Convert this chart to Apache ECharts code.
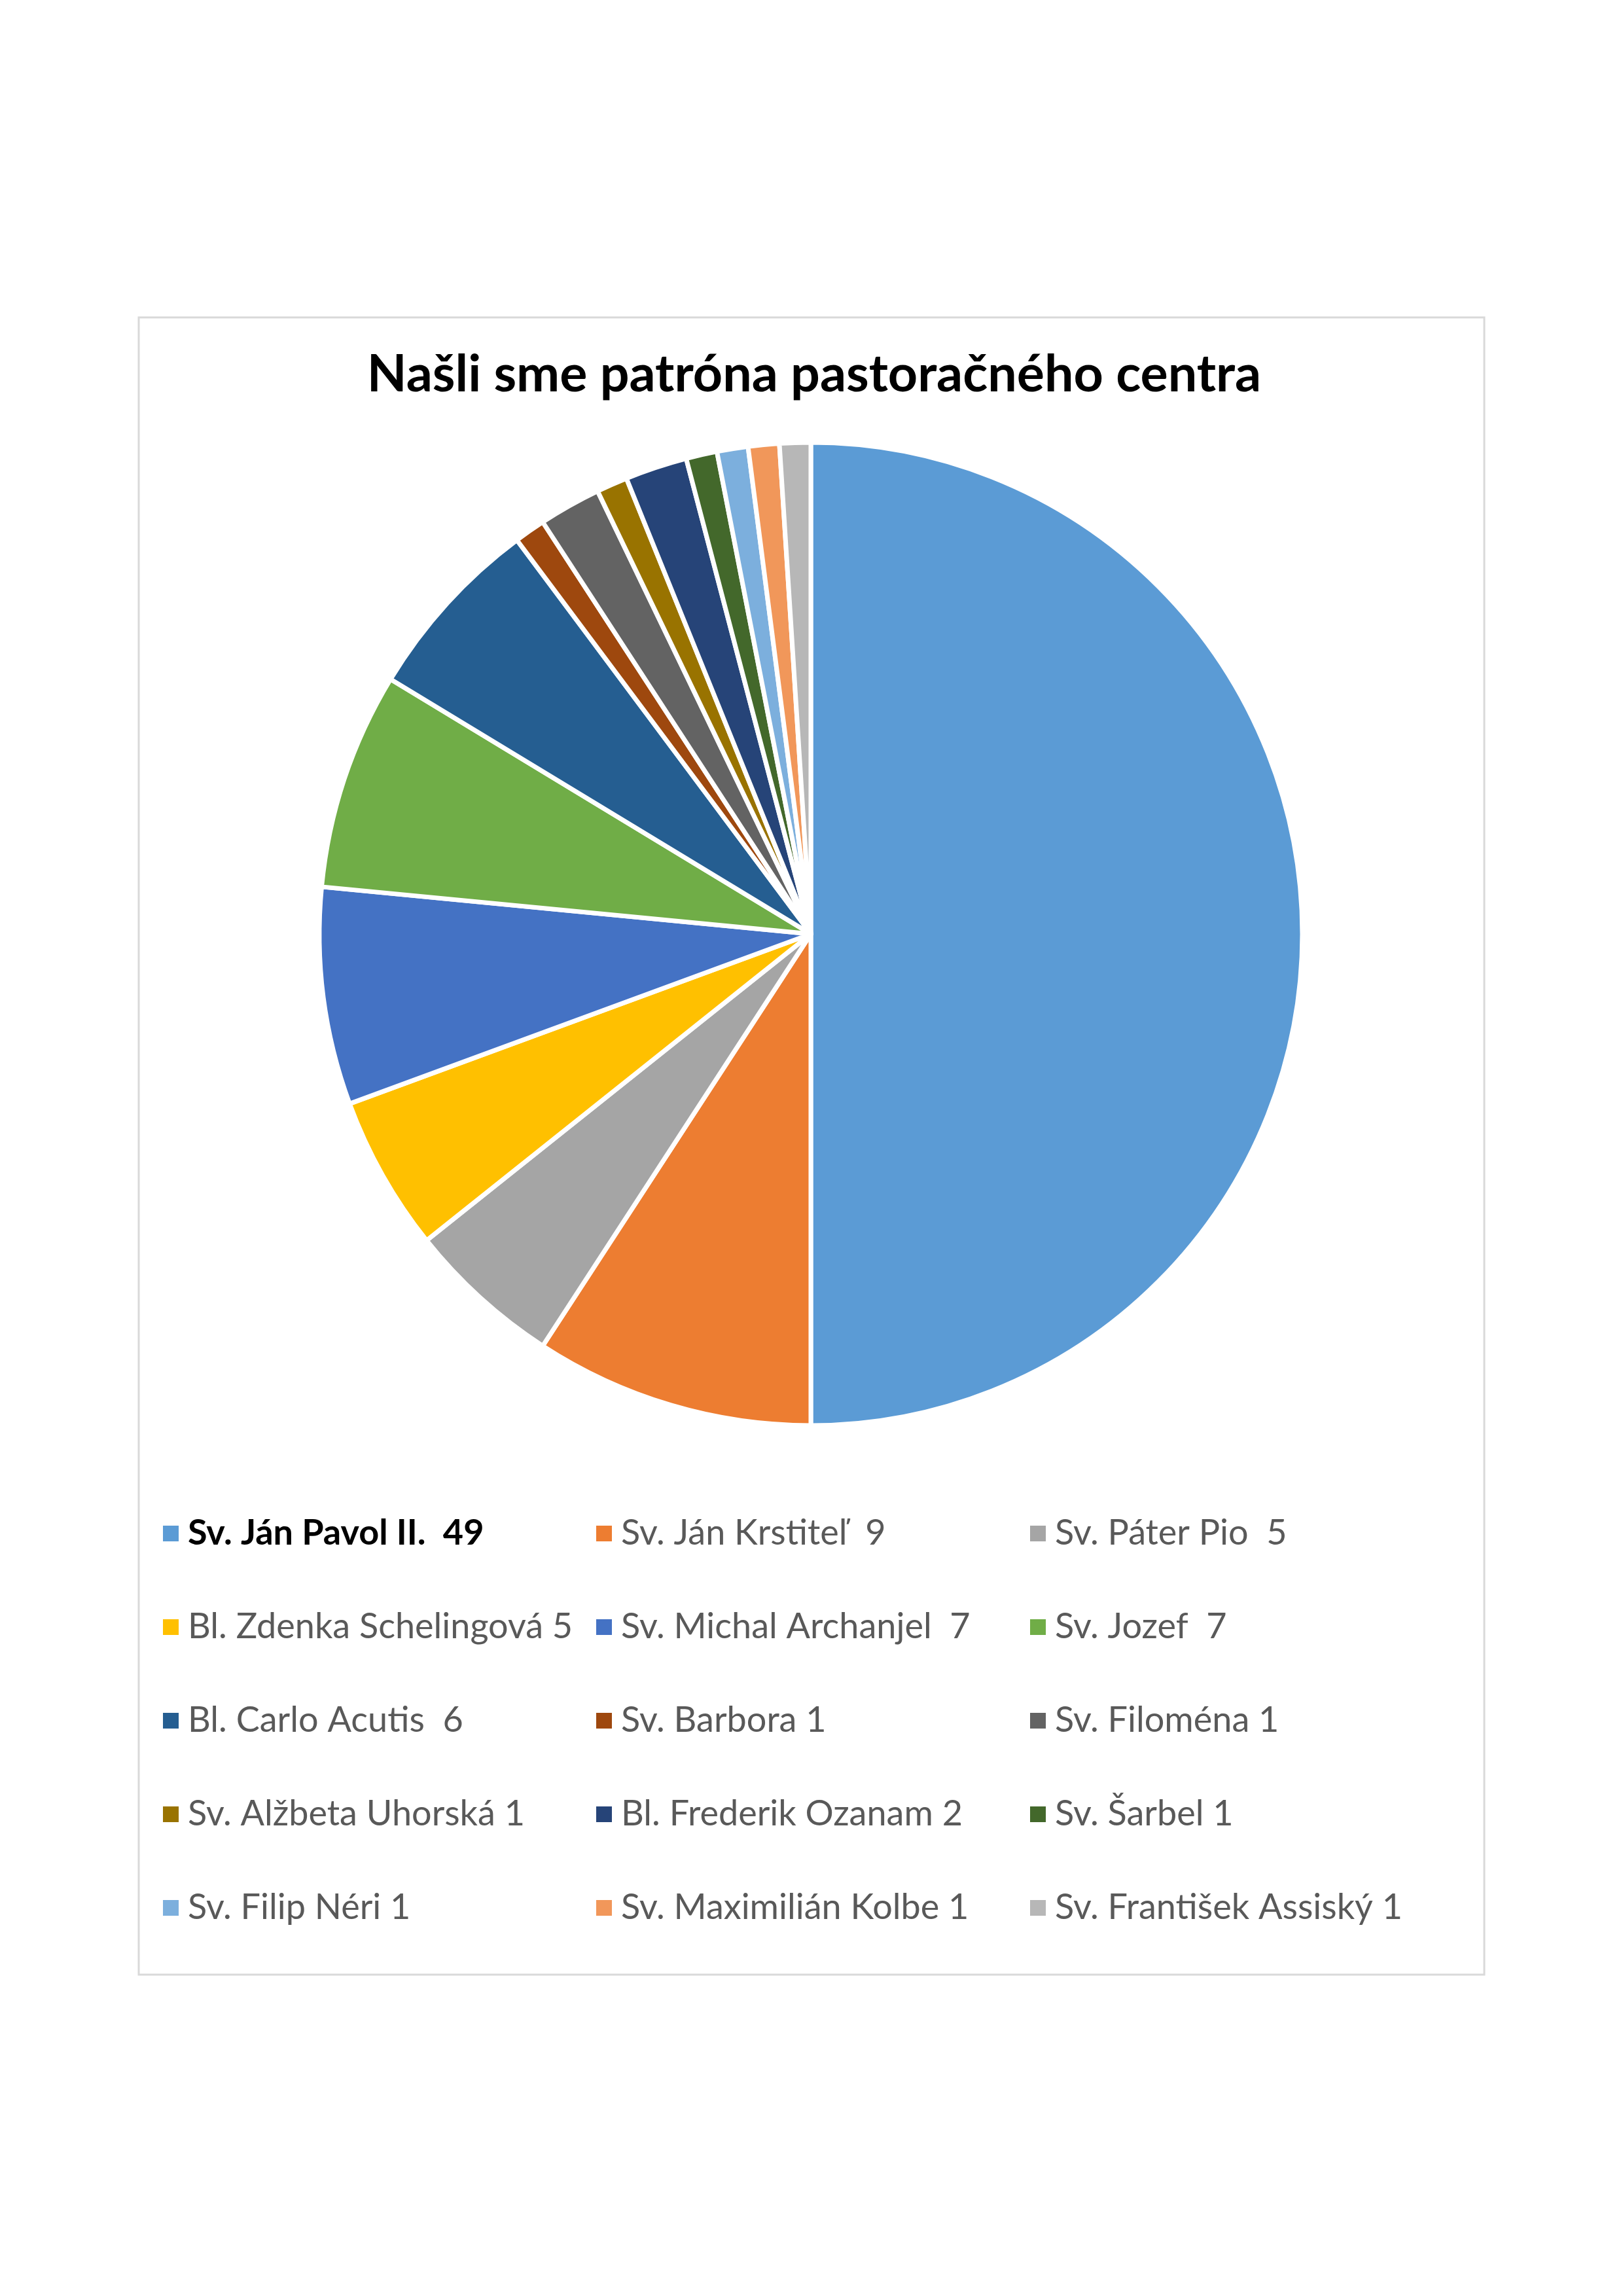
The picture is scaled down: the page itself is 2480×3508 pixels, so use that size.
<!DOCTYPE html>
<html><head><meta charset="utf-8">
<script src="https://cdn.jsdelivr.net/npm/echarts@6/dist/echarts.min.js"></script>
<style>html,body{margin:0;padding:0;background:#fff}#c{width:2480px;height:3508px}</style>
</head><body><div id="c"></div>
<script>
const titleText = 'Našli sme patróna pastoračného centra';
const categories = [
  'Sv. Ján Pavol II.  49', 'Sv. Ján Krstiteľ  9', 'Sv. Páter Pio  5',
  'Bl. Zdenka Schelingová 5', 'Sv. Michal Archanjel  7', 'Sv. Jozef  7',
  'Bl. Carlo Acutis  6', 'Sv. Barbora 1', 'Sv. Filoména 1',
  'Sv. Alžbeta Uhorská 1', 'Bl. Frederik Ozanam 2', 'Sv. Šarbel 1',
  'Sv. Filip Néri 1', 'Sv. Maximilián Kolbe 1', 'Sv. František Assiský 1'
];
// slice sizes as drawn in the picture (Filoména's slice is drawn twice as wide as the 1-vote slices)
const values = [49, 9, 5, 5, 7, 7, 6, 1, 2, 1, 2, 1, 1, 1, 1];
const colors = ['#5B9BD5','#ED7D31','#A5A5A5','#FFC000','#4472C4','#70AD47','#255E91','#9E480E','#636363','#997300','#264478','#43682B','#7CAFDD','#F1975A','#B7B7B7'];

const FONT = 'Lato';
const FS = 54;
const chart = echarts.init(document.getElementById('c'), null, {renderer:'canvas'});

const colLeft = [242, 904, 1567];
const legends = [0,1,2].map(c => ({
  orient: 'vertical',
  left: colLeft[c],
  top: 2311,
  itemWidth: 26,
  itemHeight: 26,
  itemGap: 143 - FS,
  icon: 'rect',
  selectedMode: false,
  textStyle: {fontFamily: FONT, fontSize: FS, color: '#595959', padding: [0,0,0,8]},
  data: categories.map((n,i)=>({n,i})).filter(o => o.i % 3 === c).map(o =>
    o.i === 0 ? {name: o.n, textStyle: {fontWeight: 'bold', color: '#000000', fontFamily: FONT, fontSize: FS}} : {name: o.n})
}));

chart.setOption({
  animation: false,
  backgroundColor: '#ffffff',
  color: colors,
  title: {
    text: titleText, left: 1239, top: 528, textAlign: 'center',
    textStyle: {fontFamily: FONT, fontWeight: 'bold', fontSize: 79, color: '#000000'}
  },
  graphic: [{
    type: 'rect', shape: {x: 212, y: 485, width: 2056, height: 2532},
    style: {fill: 'none', stroke: '#D9D9D9', lineWidth: 3}, silent: true, z: -1
  }],
  legend: legends,
  series: [{
    type: 'pie',
    center: [1239, 1427],
    radius: 751,
    startAngle: 90,
    clockwise: true,
    label: {show: false},
    labelLine: {show: false},
    itemStyle: {borderColor: '#ffffff', borderWidth: 7},
    emphasis: {disabled: true},
    data: categories.map((n,i)=>({name: n, value: values[i]}))
  }]
});
</script></body></html>
